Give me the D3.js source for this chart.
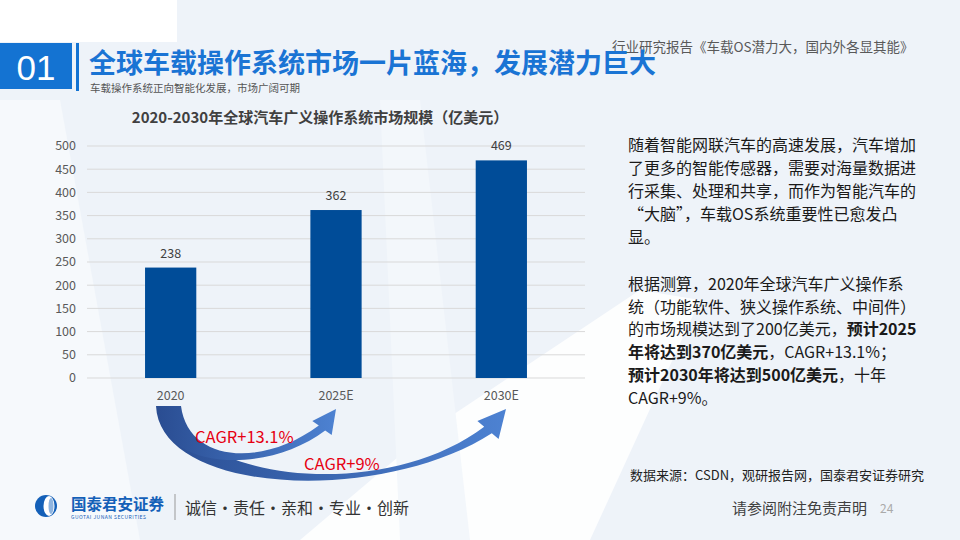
<!DOCTYPE html>
<html>
<head>
<meta charset="utf-8">
<script src="https://cdn.jsdelivr.net/npm/d3@7"></script>
<style>
  html, body { margin: 0; padding: 0; background: #fff; }
  svg { display: block; font-family: "Noto Sans CJK SC", "Noto Sans", sans-serif; }
</style>
</head>
<body>
<div class="canvas"></div>
<script>
const dims = { width: 960, height: 540 };

// chart data
const years = ["2020", "2025E", "2030E"];
const values = [238, 362, 469];
const yTicks = [0, 50, 100, 150, 200, 250, 300, 350, 400, 450, 500];
const cagrLabels = ["CAGR+13.1%", "CAGR+9%"];

// text blocks
const para1 = [
  "随着智能网联汽车的高速发展，汽车增加",
  "了更多的智能传感器，需要对海量数据进",
  "行采集、处理和共享，而作为智能汽车的",
  "“大脑”，车载OS系统重要性已愈发凸",
  "显。"
];
// each line: [text, bold?] pieces
const para2 = [
  [["根据测算，2020年全球汽车广义操作系", false]],
  [["统（功能软件、狭义操作系统、中间件）", false]],
  [["的市场规模达到了200亿美元，", false], ["预计2025", true]],
  [["年将达到370亿美元", true], ["，CAGR+13.1%；", false]],
  [["预计2030年将达到500亿美元", true], ["，十年", false]],
  [["CAGR+9%。", false]]
];

const svg = d3
  .select(".canvas")
  .append("svg")
  .attr("width", dims.width)
  .attr("height", dims.height);

const defs = svg.append("defs");
const grad = defs
  .append("linearGradient")
  .attr("id", "arrowGrad")
  .attr("x1", "0%").attr("x2", "100%")
  .attr("y1", "0%").attr("y2", "0%");
grad.append("stop").attr("offset", "0%").attr("stop-color", "#2a4d92");
grad.append("stop").attr("offset", "100%").attr("stop-color", "#4d82d2");

// background
svg.append("rect").attr("width", 960).attr("height", 540).attr("fill", "#eef3f9");
svg.append("rect").attr("width", 177).attr("height", 42).attr("fill", "#ffffff");
svg.append("path")
  .attr("d", "M0,100 L60,100 L140,540 L0,540 Z")
  .attr("fill", "#f6f9fc");
svg.append("path")
  .attr("d", "M300,540 L430,430 L640,290 L700,300 L590,540 Z")
  .attr("fill", "#ffffff")
  .attr("opacity", 0.85);
svg.append("path")
  .attr("d", "M380,100 L420,100 L470,540 L400,540 Z")
  .attr("fill", "#f3f7fb");

// header
svg.append("rect").attr("x", 0).attr("y", 43).attr("width", 72).attr("height", 46).attr("fill", "#1473d2");
svg.append("rect").attr("x", 76).attr("y", 43).attr("width", 3).attr("height", 48).attr("fill", "#1473d2");
svg.append("text")
  .attr("x", 36).attr("y", 80)
  .attr("text-anchor", "middle")
  .attr("fill", "#fff")
  .attr("font-family", "Liberation Sans, Arial, sans-serif")
  .attr("font-size", 35)
  .text("01");
svg.append("text")
  .attr("x", 612).attr("y", 52)
  .attr("fill", "#595959")
  .attr("font-size", 13.5)
  .text("行业研究报告《车载OS潜力大，国内外各显其能》");
svg.append("text")
  .attr("x", 89).attr("y", 73)
  .attr("fill", "#1a74d4")
  .attr("font-weight", "bold")
  .attr("font-size", 27)
  .text("全球车载操作系统市场一片蓝海，发展潜力巨大");
svg.append("text")
  .attr("x", 90).attr("y", 92)
  .attr("fill", "#555")
  .attr("font-size", 10.5)
  .text("车载操作系统正向智能化发展，市场广阔可期");

// chart
const x = d3.scaleBand().domain(years).range([88, 584]).paddingInner(0.69).paddingOuter(0.345);
const y = d3.scaleLinear().domain([0, 500]).range([378, 146]);

svg.append("text")
  .attr("x", 320).attr("y", 123)
  .attr("text-anchor", "middle")
  .attr("fill", "#404040")
  .attr("font-weight", "bold")
  .attr("font-size", 15)
  .text("2020-2030年全球汽车广义操作系统市场规模（亿美元）");

const grid = svg.append("g");
grid.selectAll("line")
  .data(yTicks)
  .join("line")
  .attr("x1", 87).attr("x2", 585)
  .attr("y1", (d) => y(d)).attr("y2", (d) => y(d))
  .attr("stroke", "#d9d9d9")
  .attr("stroke-width", 1);

grid.selectAll("text")
  .data(yTicks)
  .join("text")
  .attr("x", 76).attr("y", (d) => y(d))
  .attr("dy", "0.35em")
  .attr("text-anchor", "end")
  .attr("fill", "#595959")
  .attr("font-size", 12.5)
  .text((d) => d);

svg.append("g")
  .selectAll("rect")
  .data(values)
  .join("rect")
  .attr("x", (d, i) => x(years[i]))
  .attr("y", (d) => y(d))
  .attr("width", x.bandwidth())
  .attr("height", (d) => y(0) - y(d))
  .attr("fill", "#004c98");

svg.append("g")
  .selectAll("text")
  .data(values)
  .join("text")
  .attr("x", (d, i) => x(years[i]) + x.bandwidth() / 2)
  .attr("y", (d) => y(d) - 10)
  .attr("text-anchor", "middle")
  .attr("fill", "#404040")
  .attr("font-size", 12.5)
  .text((d) => d);

svg.append("g")
  .selectAll("text")
  .data(years)
  .join("text")
  .attr("x", (d) => x(d) + x.bandwidth() / 2)
  .attr("y", 396)
  .attr("dy", "0.35em")
  .attr("text-anchor", "middle")
  .attr("fill", "#595959")
  .attr("font-size", 12.5)
  .text((d) => d);

// CAGR arrows
const arrows = svg.append("g").attr("fill", "url(#arrowGrad)");
arrows.append("path")
  .attr("d", "M156,406 C160,495 380,505 491.8,433.3 L498.6,439.1 L506,409 L477.4,420.9 L484.2,426.8 C380,505 190,478 174,406 Z");
arrows.append("path")
  .attr("d", "M158,406 C158,470 265,476 325.2,430.4 L331.7,435.1 L336,409 L312.3,420.9 L318.8,425.6 C262,468 188,462 181,406 Z");

svg.append("g")
  .selectAll("text")
  .data(cagrLabels)
  .join("text")
  .attr("x", (d, i) => [195, 304][i])
  .attr("y", (d, i) => [443, 470][i])
  .attr("fill", "#e60012")
  .attr("font-size", 16.5)
  .text((d) => d);

// right text
const txt = svg.append("g").attr("fill", "#1a1a1a").attr("font-size", 16);
txt.selectAll("text.p1")
  .data(para1)
  .join("text")
  .attr("class", "p1")
  .attr("x", 628)
  .attr("y", (d, i) => 151 + i * 23)
  .text((d) => d);

const p2 = txt.selectAll("text.p2")
  .data(para2)
  .join("text")
  .attr("class", "p2")
  .attr("x", 628)
  .attr("y", (d, i) => 290 + i * 22.7);
p2.selectAll("tspan")
  .data((d) => d)
  .join("tspan")
  .attr("font-weight", (d) => (d[1] ? "bold" : "normal"))
  .text((d) => d[0]);

svg.append("text")
  .attr("x", 630).attr("y", 480)
  .attr("fill", "#222")
  .attr("font-size", 13)
  .text("数据来源：CSDN，观研报告网，国泰君安证券研究");

// footer
const logo = svg.append("g").attr("transform", "translate(46,506)");
logo.append("circle").attr("r", 11).attr("fill", "#1460b8");
logo.append("ellipse").attr("cx", 3).attr("rx", 5.5).attr("ry", 10).attr("fill", "#fff");
logo.append("ellipse").attr("cx", 5).attr("rx", 2.5).attr("ry", 8).attr("fill", "#8fb5e0");
svg.append("text")
  .attr("x", 71).attr("y", 510)
  .attr("fill", "#1460b8")
  .attr("font-weight", "bold")
  .attr("font-size", 15.5)
  .text("国泰君安证券");
svg.append("text")
  .attr("x", 71).attr("y", 519)
  .attr("fill", "#1460b8")
  .attr("font-size", 5)
  .attr("textLength", 75)
  .text("GUOTAI JUNAN SECURITIES");
svg.append("line")
  .attr("x1", 175).attr("x2", 175).attr("y1", 494).attr("y2", 520)
  .attr("stroke", "#999");
svg.append("text")
  .attr("x", 185).attr("y", 514)
  .attr("fill", "#333")
  .attr("font-size", 16)
  .text("诚信·责任·亲和·专业·创新");
svg.append("text")
  .attr("x", 732).attr("y", 514)
  .attr("fill", "#404040")
  .attr("font-size", 15)
  .text("请参阅附注免责声明");
svg.append("text")
  .attr("x", 880).attr("y", 513)
  .attr("fill", "#aaa")
  .attr("font-size", 12)
  .text("24");
</script>
</body>
</html>
